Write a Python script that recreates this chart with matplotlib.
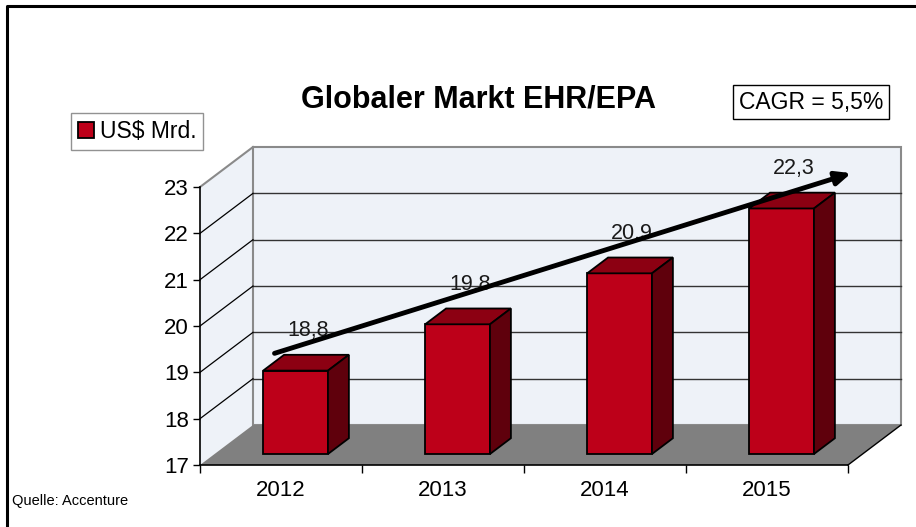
import matplotlib
matplotlib.use("Agg")
import matplotlib.pyplot as plt
from matplotlib.patches import Polygon, Rectangle
from matplotlib.lines import Line2D

# ---- data ----
years = ["2012", "2013", "2014", "2015"]
values = [18.8, 19.8, 20.9, 22.3]
value_labels = ["18,8", "19,8", "20,9", "22,3"]
yticks = [17, 18, 19, 20, 21, 22, 23]
series_name = "US$ Mrd."
title = "Globaler Markt EHR/EPA"
cagr_text = "CAGR = 5,5%"
source = "Quelle: Accenture"

# ---- style ----
FONT = ["Liberation Sans", "DejaVu Sans"]
plt.rcParams['font.family'] = FONT
C_FRONT = "#bd0019"
C_TOP = "#8c0012"
C_SIDE = "#5f000c"
C_WALL = "#eef2f8"
C_FLOOR = "#808080"
YMIN, YMAX = 17, 23
DX, DY = 0.327, 0.863        # depth of the 3-D box (category units, value units)
F1, F2 = 0.275, 0.67         # bar front / back depth fractions
BW = 0.40                    # bar width (category units)

W, H = 916, 527
fig = plt.figure(figsize=(W / 100, H / 100), dpi=100)
fig.patch.set_facecolor("white")

# axes placement in pixels
px_cat, px_unit = 162.0, 46.33
x0_px, y0_px = 200.0, 465.0
xlim = (-0.2, 4.4)
ylim = (16.6, 24.0)
left = (x0_px + xlim[0] * px_cat) / W
right = (x0_px + xlim[1] * px_cat) / W
bottom = (H - (y0_px + (YMIN - ylim[0]) * px_unit)) / H
top = (H - (y0_px - (ylim[1] - YMIN) * px_unit)) / H
ax = fig.add_axes([left, bottom, right - left, top - bottom])
ax.set_xlim(*xlim)
ax.set_ylim(*ylim)
ax.patch.set_alpha(0)

n = len(values)

# ---- walls and floor ----
ax.add_patch(Polygon([(0, YMIN), (DX, YMIN + DY), (DX, YMAX + DY), (0, YMAX)],
                     closed=True, facecolor=C_WALL, edgecolor="none", zorder=0))
ax.add_patch(Rectangle((DX, YMIN + DY), n, YMAX - YMIN, facecolor=C_WALL,
                       edgecolor="#8a8a8a", lw=1.5, zorder=0))
for v in yticks[1:-1]:
    ax.plot([DX, n + DX], [v + DY, v + DY], color="#333333", lw=1.0, zorder=1)
for v in yticks[1:]:
    col, lw = ("#8a8a8a", 1.5) if v == YMAX else ("black", 0.9)
    ax.plot([0, DX], [v, v + DY], color=col, lw=lw, zorder=1)
ax.add_patch(Polygon([(0, YMIN), (n, YMIN), (n + DX, YMIN + DY), (DX, YMIN + DY)],
                     closed=True, facecolor=C_FLOOR, edgecolor="none", zorder=1))
ax.plot([n, n + DX], [YMIN, YMIN + DY], color="black", lw=1.0, zorder=2)

# ---- bars ----
dd = F2 - F1
for i, v in enumerate(values):
    xl = i + 0.5 - BW / 2 + F1 * DX
    xr = xl + BW
    yb = YMIN + F1 * DY
    yt = v + F1 * DY
    ax.bar(xl, v - YMIN, width=BW, bottom=yb, align="edge", color=C_FRONT,
           edgecolor="black", lw=1.3, zorder=3,
           label=series_name if i == 0 else None)
    ax.add_patch(Polygon([(xl, yt), (xr, yt), (xr + dd * DX, yt + dd * DY),
                          (xl + dd * DX, yt + dd * DY)], closed=True,
                         facecolor=C_TOP, edgecolor="black", lw=1.3, zorder=3))
    ax.add_patch(Polygon([(xr, yb), (xr + dd * DX, yb + dd * DY),
                          (xr + dd * DX, yt + dd * DY), (xr, yt)], closed=True,
                         facecolor=C_SIDE, edgecolor="black", lw=1.3, zorder=3))
    ax.text(i + 0.5 + 0.165, v + 1.1, value_labels[i], ha="center", va="center",
            fontsize=15.5, color="#1a1a1a", zorder=4)

# ---- trend arrow (CAGR) ----
ax.annotate("", xy=(n - 0.5 + 0.52, values[-1] + 1.0),
            xytext=(0.5 - 0.04, values[0] + 0.61),
            arrowprops=dict(arrowstyle="-|>,head_length=0.9,head_width=0.4",
                            color="black", lw=3.5, shrinkA=0, shrinkB=0),
            zorder=5)

# ---- axes ----
for s in ["top", "right"]:
    ax.spines[s].set_visible(False)
ax.spines["left"].set_position(("data", 0))
ax.spines["left"].set_bounds(YMIN, YMAX)
ax.spines["bottom"].set_position(("data", YMIN))
ax.spines["bottom"].set_bounds(0, n)
for s in ["left", "bottom"]:
    ax.spines[s].set_linewidth(1.2)
    ax.spines[s].set_zorder(4)
ax.set_yticks(yticks)
ax.set_yticklabels([str(t) for t in yticks], fontsize=16)
ax.set_xticks(range(n + 1))
ax.set_xticklabels([""] * (n + 1))
ax.set_xticks([i + 0.5 for i in range(n)], minor=True)
ax.set_xticklabels(years, minor=True, fontsize=16)
ax.tick_params(axis="x", which="minor", length=0, pad=11)
ax.tick_params(axis="x", which="major", length=6, width=1.0, direction="out")
ax.tick_params(axis="y", length=5, width=1.0, direction="out", pad=3)

# ---- legend ----
leg = ax.legend(loc="upper left", bbox_to_anchor=(71 / W, 1 - 113 / H),
                bbox_transform=fig.transFigure, fontsize=16.5, frameon=True,
                fancybox=False, edgecolor="#777777", handlelength=0.7,
                handleheight=0.7, handletextpad=0.25, borderpad=0.3,
                borderaxespad=0)
leg.get_frame().set_linewidth(1.0)

# ---- title, CAGR box, source ----
fig.text(478 / W, 1 - 100 / H, title, ha="center", va="center", fontsize=22,
         fontweight="bold")
fig.text(811 / W, 1 - 102 / H, cagr_text, ha="center", va="center", fontsize=16.5,
         bbox=dict(boxstyle="square,pad=0.25", facecolor="white",
                   edgecolor="black", lw=1.0))
fig.text(12 / W, 1 - 501 / H, source, ha="left", va="center", fontsize=10.5)

# ---- outer frame ----
fig.add_artist(Line2D([7 / W, 7 / W, 1], [0, 1 - 6 / H, 1 - 6 / H],
                      transform=fig.transFigure, color="black", lw=2.2))

fig.savefig("out.png", dpi=100)
